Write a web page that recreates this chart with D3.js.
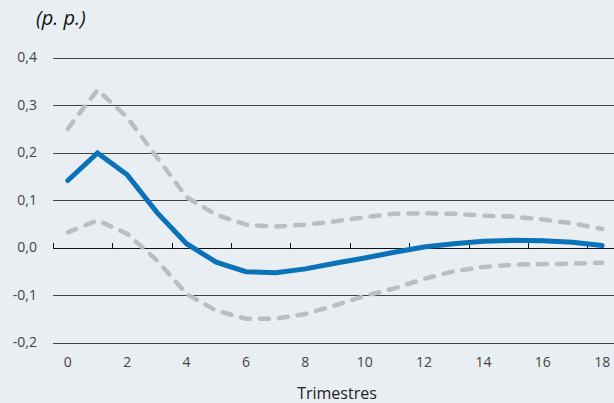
<!DOCTYPE html>
<html>
<head>
<meta charset="utf-8">
<script src="https://cdn.jsdelivr.net/npm/d3@7"></script>
<style>
  html, body { margin: 0; padding: 0; background: #e9eef3; }
  svg { display: block; font-family: "Open Sans", "Noto Sans", sans-serif; }
</style>
</head>
<body>
<div id="chart"></div>
<script>
// quarters after the shock
const quarters = d3.range(0, 19);
const xTickLabels = [0, 2, 4, 6, 8, 10, 12, 14, 16, 18];
const yTicks = [-0.2, -0.1, 0.0, 0.1, 0.2, 0.3, 0.4];

// central response (p. p.)
const response = [0.141, 0.199, 0.153, 0.074, 0.008, -0.031, -0.051, -0.053, -0.045, -0.033,
  -0.022, -0.010, 0.001, 0.008, 0.013, 0.015, 0.014, 0.011, 0.004];
// confidence bands
const upperBand = [0.250, 0.332, 0.274, 0.190, 0.106, 0.069, 0.048, 0.044, 0.048, 0.055,
  0.064, 0.071, 0.072, 0.071, 0.067, 0.065, 0.059, 0.051, 0.039];
const lowerBand = [0.032, 0.057, 0.029, -0.027, -0.098, -0.133, -0.150, -0.150, -0.140, -0.122,
  -0.102, -0.086, -0.066, -0.050, -0.041, -0.036, -0.035, -0.034, -0.032];

const width = 614, height = 403;

const svg = d3.select('#chart')
  .append('svg')
  .attr('width', width)
  .attr('height', height);

svg.append('rect')
  .attr('width', width)
  .attr('height', height)
  .attr('fill', '#e9eef3');

const x = d3.scaleLinear().domain([-0.5, 18.5]).range([53, 617]);
const y = d3.scaleLinear().domain([-0.2, 0.4]).range([342.5, 57.5]);

const fmt = v => d3.format('.1f')(v).replace('.', ',').replace('−', '-');

// gridlines
svg.append('g')
  .selectAll('line')
  .data(yTicks)
  .enter()
  .append('line')
  .attr('x1', x(-0.5))
  .attr('x2', width)
  .attr('y1', d => Math.round(y(d)) + 0.5)
  .attr('y2', d => Math.round(y(d)) + 0.5)
  .attr('stroke', d => d === 0 ? '#111' : '#444')
  .attr('stroke-width', 1);

// y labels
svg.append('g')
  .selectAll('text')
  .data(yTicks)
  .enter()
  .append('text')
  .attr('x', 37)
  .attr('y', d => y(d))
  .attr('dy', '0.35em')
  .attr('text-anchor', 'end')
  .attr('font-size', 14)
  .attr('fill', '#444')
  .text(fmt);

// x ticks on the zero line (between categories)
const tickPos = d3.range(-0.5, 18, 2);
svg.append('g')
  .selectAll('line')
  .data(tickPos)
  .enter()
  .append('line')
  .attr('x1', d => Math.round(x(d)) + 0.5)
  .attr('x2', d => Math.round(x(d)) + 0.5)
  .attr('y1', Math.round(y(0)) + 0.5)
  .attr('y2', Math.round(y(0)) - 5)
  .attr('stroke', '#111')
  .attr('stroke-width', 1);

// x labels
svg.append('g')
  .selectAll('text')
  .data(xTickLabels)
  .enter()
  .append('text')
  .attr('x', d => x(d))
  .attr('y', 367)
  .attr('text-anchor', 'middle')
  .attr('font-size', 14)
  .attr('fill', '#444')
  .text(d => d);

svg.append('text')
  .attr('x', 337)
  .attr('y', 399)
  .attr('text-anchor', 'middle')
  .attr('font-size', 16)
  .attr('fill', '#222')
  .text('Trimestres');

svg.append('text')
  .attr('x', 36)
  .attr('y', 25)
  .attr('font-size', 20)
  .attr('font-style', 'italic')
  .attr('fill', '#111')
  .text('(p. p.)');

const line = d3.line()
  .x((d, i) => x(quarters[i]))
  .y(d => y(d));

[upperBand, lowerBand].forEach(band => {
  svg.append('path')
    .datum(band)
    .attr('d', line)
    .attr('fill', 'none')
    .attr('stroke', '#b7bfc3')
    .attr('stroke-width', 4.5)
    .attr('stroke-linecap', 'round')
    .attr('stroke-linejoin', 'round')
    .attr('stroke-dasharray', '9,10');
});

svg.append('path')
  .datum(response)
  .attr('d', line)
  .attr('fill', 'none')
  .attr('stroke', '#0a72b8')
  .attr('stroke-width', 5)
  .attr('stroke-linecap', 'round')
  .attr('stroke-linejoin', 'miter');
</script>
</body>
</html>
